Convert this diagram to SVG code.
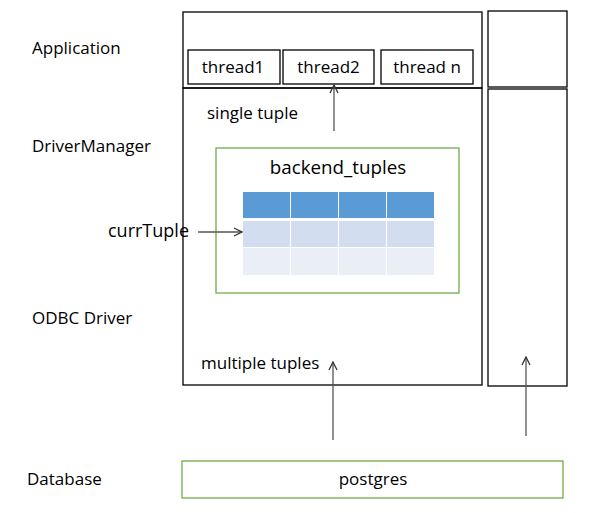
<svg xmlns="http://www.w3.org/2000/svg" width="598" height="513" viewBox="0 0 598 513">
<defs>
<style>
text{font-family:"Open Sans","Noto Sans","DejaVu Sans",sans-serif;font-size:17px;fill:#000}
.box{fill:none;stroke:#000;stroke-width:1.3}
.green{fill:none;stroke:#70AD47;stroke-width:1.3}
.arr{stroke:#555;stroke-width:1.3;fill:none;marker-end:url(#ah)}
</style>
<marker id="ah" viewBox="0 0 10 10" refX="9" refY="5" markerWidth="10" markerHeight="10" markerUnits="userSpaceOnUse" orient="auto">
<path d="M1,1 L9,5 L1,9" fill="none" stroke="#333" stroke-width="1.3"/>
</marker>
</defs>
<rect width="598" height="513" fill="#fff"/>
<g id="labels">
<text x="32" y="54">Application</text>
<text x="32" y="152">DriverManager</text>
<text x="32" y="324">ODBC Driver</text>
<text x="27" y="485">Database</text>
</g>
<g id="app-box"><rect class="box" x="183" y="12" width="299" height="76"/></g>
<g id="thread1"><rect class="box" x="188" y="50" width="92" height="34"/><text x="233" y="73" text-anchor="middle">thread1</text></g>
<g id="thread2"><rect class="box" x="283" y="50" width="91" height="34"/><text x="328.5" y="73" text-anchor="middle">thread2</text></g>
<g id="threadn"><rect class="box" x="381" y="50" width="92" height="34"/><text x="427" y="73" text-anchor="middle">thread n</text></g>
<g id="driver-box"><rect class="box" x="183" y="88" width="299" height="297"/>
<text x="207" y="119">single tuple</text>
<text x="201" y="369">multiple tuples</text></g>
<g id="right-top"><rect class="box" x="488" y="11" width="79" height="76"/></g>
<g id="right-bottom"><rect class="box" x="488" y="89" width="79" height="297"/></g>
<g id="backend">
<rect class="green" x="216" y="148" width="243" height="145"/>
<text x="338" y="174" text-anchor="middle" style="font-size:18.8px">backend_tuples</text>
<g fill="#5B9BD5">
<rect x="243" y="192" width="47" height="26"/><rect x="291" y="192" width="47" height="26"/><rect x="339" y="192" width="47" height="26"/><rect x="387" y="192" width="47" height="26"/>
</g>
<g fill="#D2DEEF">
<rect x="243" y="221" width="47" height="26"/><rect x="291" y="221" width="47" height="26"/><rect x="339" y="221" width="47" height="26"/><rect x="387" y="221" width="47" height="26"/>
</g>
<g fill="#EAEFF7">
<rect x="243" y="248" width="47" height="27"/><rect x="291" y="248" width="47" height="27"/><rect x="339" y="248" width="47" height="27"/><rect x="387" y="248" width="47" height="27"/>
</g>
</g>
<g id="currTuple"><text x="108" y="237" style="font-size:18px">currTuple</text></g>
<g id="postgres"><rect class="green" x="182" y="461" width="381" height="37"/><text x="373" y="485" text-anchor="middle">postgres</text></g>
<g id="connectors">
<line class="arr" x1="334" y1="131" x2="334" y2="85"/>
<line class="arr" x1="198" y1="232" x2="242" y2="232"/>
<line class="arr" x1="333" y1="440" x2="333" y2="362"/>
<line class="arr" x1="526" y1="436" x2="526" y2="357"/>
</g>
</svg>
